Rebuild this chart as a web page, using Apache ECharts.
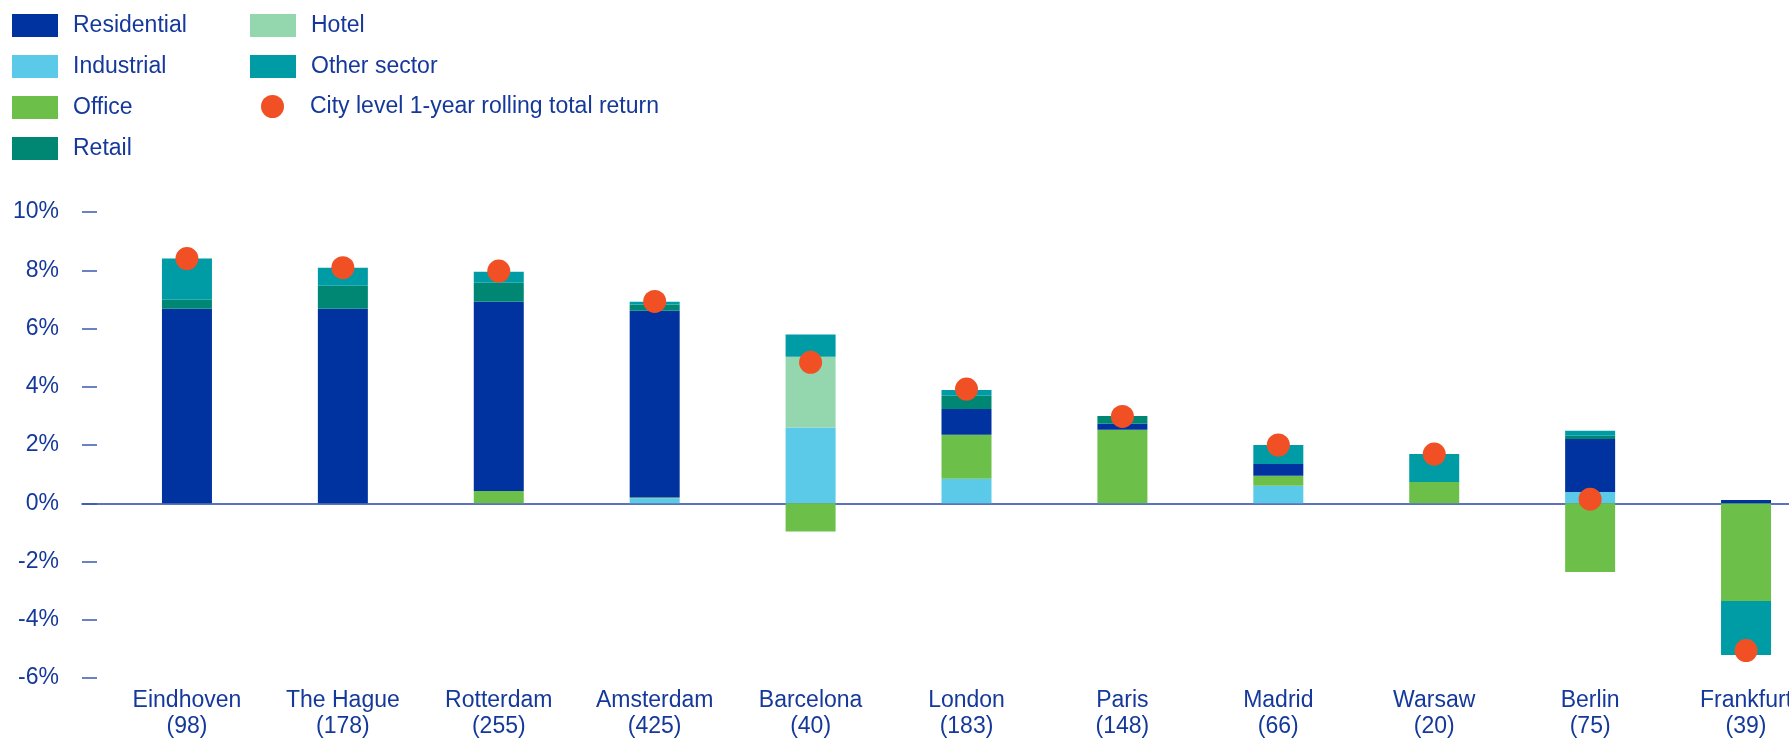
<!DOCTYPE html>
<html>
<head>
<meta charset="utf-8">
<title>City level returns by sector</title>
<script src="https://cdn.jsdelivr.net/npm/echarts@6/dist/echarts.min.js"></script>
<style>
  html, body { margin: 0; padding: 0; background: #fff; }
  #chart { width: 1789px; height: 740px; }
</style>
</head>
<body>
<div id="chart"></div>
<script>
// cities and number of assets
const cities = ['Eindhoven', 'The Hague', 'Rotterdam', 'Amsterdam', 'Barcelona', 'London', 'Paris', 'Madrid', 'Warsaw', 'Berlin', 'Frankfurt']
const counts = [98, 178, 255, 425, 40, 183, 148, 66, 20, 75, 39]

// sector contributions, % (stack order bottom -> top)
const industrial = [0, 0, 0, 0.17, 2.6, 0.84, 0, 0.6, 0, 0.39, 0]
const office = [0, 0, 0.42, 0.03, -0.97, 1.51, 2.52, 0.34, 0.73, -2.36, -3.36]
const residential = [6.68, 6.68, 6.5, 6.41, 0, 0.89, 0.21, 0.41, 0, 1.82, 0.11]
const retail = [0.31, 0.79, 0.65, 0.21, 0, 0.45, 0.27, 0, 0, 0.11, 0]
const hotel = [0, 0, 0, 0, 2.43, 0, 0, 0, 0, 0, 0]
const other = [1.41, 0.62, 0.38, 0.1, 0.76, 0.2, 0, 0.65, 0.96, 0.17, -1.85]
const cityReturn = [8.4, 8.09, 7.97, 6.93, 4.84, 3.92, 2.98, 2.0, 1.69, 0.14, -5.06]

const yTicks = { min: -6, max: 10, step: 2 }

const textColor = '#15389b'
const font = 'Liberation Sans, Arial, sans-serif'
const color = {
  Residential: '#0033a0',
  Industrial: '#5bc9e8',
  Office: '#6cc04a',
  Retail: '#008774',
  Hotel: '#94d7ae',
  'Other sector': '#009ca6',
}
const returnName = 'City level 1-year rolling total return'

const chart = echarts.init(document.getElementById('chart'))

function createSeries(name, data) {
  return {
    name: name,
    type: 'bar',
    stack: 'total',
    barWidth: 50,
    itemStyle: { color: color[name] },
    data: data,
  }
}

const legendText = { color: textColor, fontSize: 23, fontFamily: font, lineHeight: 23 }
const plotBox = { top: 212, bottom: 62, outerBoundsMode: 'none', containLabel: false }

const option = {
  backgroundColor: '#fff',
  animation: false,
  textStyle: { fontFamily: font },
  legend: [
    {
      data: ['Residential', 'Industrial', 'Office', 'Retail'],
      orient: 'vertical',
      left: 12,
      top: 14,
      padding: 0,
      icon: 'rect',
      itemWidth: 46,
      itemHeight: 23,
      itemGap: 18,
      textStyle: { ...legendText, padding: [0, 0, 0, 10] },
    },
    {
      data: ['Hotel', 'Other sector'],
      orient: 'vertical',
      left: 250,
      top: 14,
      padding: 0,
      icon: 'rect',
      itemWidth: 46,
      itemHeight: 23,
      itemGap: 18,
      textStyle: { ...legendText, padding: [0, 0, 0, 10] },
    },
    {
      data: [returnName],
      left: 261,
      top: 95,
      padding: 0,
      icon: 'circle',
      itemWidth: 23,
      itemHeight: 23,
      textStyle: { ...legendText, padding: [0, 0, 0, 21] },
    },
  ],
  grid: [
    // bars + city labels (last category runs past the right edge)
    { ...plotBox, left: 109, width: 1715 },
    // y scale + zero line
    { ...plotBox, left: 82, right: 0 },
  ],
  xAxis: [
    {
      type: 'category',
      gridIndex: 0,
      data: cities,
      axisLine: { show: false, onZero: false },
      axisTick: { show: false },
      axisLabel: {
        interval: 0,
        formatter: (v, i) => `${v}\n(${counts[i]})`,
        color: textColor,
        fontSize: 23,
        lineHeight: 26,
        fontFamily: font,
        margin: 10,
      },
    },
    {
      type: 'value',
      gridIndex: 1,
      min: 0,
      max: 1,
      axisLine: { show: true, onZero: true, lineStyle: { color: '#2646a6', width: 1.5 } },
      axisTick: { show: false },
      axisLabel: { show: false },
      splitLine: { show: false },
    },
  ],
  yAxis: [
    {
      type: 'value',
      gridIndex: 0,
      min: yTicks.min,
      max: yTicks.max,
      interval: yTicks.step,
      show: false,
    },
    {
      type: 'value',
      gridIndex: 1,
      min: yTicks.min,
      max: yTicks.max,
      interval: yTicks.step,
      axisLine: { show: false, onZero: false },
      axisTick: { show: true, inside: true, length: 15, lineStyle: { color: '#3a58b0', width: 1.5 } },
      splitLine: { show: false },
      axisLabel: {
        formatter: '{value}%',
        color: textColor,
        fontSize: 23,
        fontFamily: font,
        margin: 23,
      },
    },
  ],
  series: [
    createSeries('Industrial', industrial),
    createSeries('Office', office),
    createSeries('Residential', residential),
    createSeries('Retail', retail),
    createSeries('Hotel', hotel),
    createSeries('Other sector', other),
    {
      name: returnName,
      type: 'scatter',
      symbolSize: 23,
      z: 3,
      itemStyle: { color: '#f15025', opacity: 1 },
      data: cityReturn,
    },
  ],
}

chart.setOption(option)
</script>
</body>
</html>
